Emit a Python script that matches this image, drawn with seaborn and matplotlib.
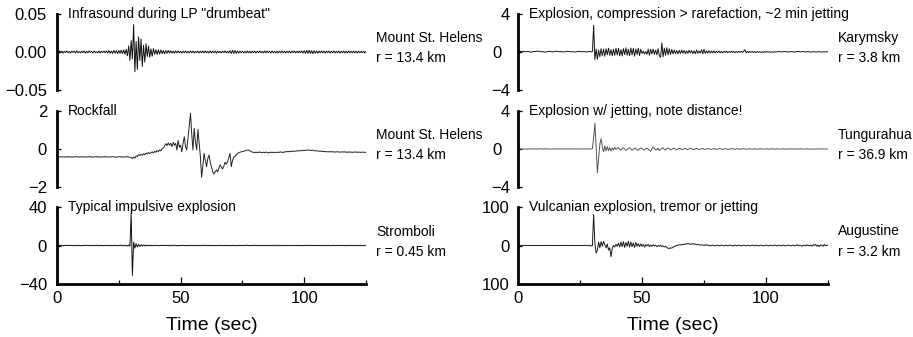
import numpy as np
import pandas as pd
import seaborn as sns
import matplotlib.pyplot as plt
from matplotlib.ticker import FixedLocator
from matplotlib.transforms import ScaledTranslation

sns.set_style("ticks")
plt.rcParams["font.family"] = ["Liberation Sans", "DejaVu Sans"]
for key in ("text.color", "axes.labelcolor", "xtick.color", "ytick.color",
            "axes.edgecolor"):
    plt.rcParams[key] = "black"

# Sampling interval of every trace (seconds); samples start at t = 0
DT = 0.5
TIME_MAX = 125
TIME_TICKS = [0, 50, 100]
TIME_MINOR = [25, 75, 125]

# --- Mount St. Helens, infrasound during LP "drumbeat" (Pa) ---
msh_lp = [
    0.0005, -0.0012, 0.0014, -0.0008, 0.0011, -0.0015, 0.0009, -0.0006, 0.0013, -0.0011,
    0.0007, -0.0014, 0.0012, -0.0005, 0.0010, -0.0013, 0.0015, -0.0009, 0.0006, -0.0012,
    0.0011, -0.0007, 0.0013, -0.0014, 0.0008, -0.0010, 0.0014, -0.0006, 0.0009, -0.0013,
    0.0012, -0.0008, 0.0005, -0.0011, 0.0013, -0.0015, 0.0010, -0.0007, 0.0012, -0.0010,
    0.0014, -0.0012, 0.0018, -0.0016, 0.0012, -0.0019, 0.0021, -0.0015, 0.0017, -0.0022,
    0.0020, -0.0018, 0.0024, -0.0021, 0.0028, -0.0030, 0.0035, -0.0050, 0.0080, -0.0110,
    0.0150, -0.0090, 0.0360, -0.0260, 0.0140, -0.0230, 0.0200, -0.0110, 0.0170, -0.0190,
    0.0090, -0.0130, 0.0110, -0.0060, 0.0080, -0.0070, 0.0040, -0.0055, 0.0045, -0.0030,
    0.0030, -0.0032, 0.0028, -0.0025, 0.0027, -0.0022, 0.0020, -0.0024, 0.0018, -0.0016,
    0.0019, -0.0015, 0.0017, -0.0014, 0.0012, -0.0016, 0.0013, -0.0011, 0.0015, -0.0012,
    0.0010, -0.0013, 0.0011, -0.0009, 0.0014, -0.0012, 0.0008, -0.0011, 0.0013, -0.0010,
    0.0012, -0.0014, 0.0009, -0.0008, 0.0011, -0.0013, 0.0010, -0.0009, 0.0012, -0.0011,
    0.0014, -0.0010, 0.0008, -0.0012, 0.0015, -0.0013, 0.0011, -0.0009, 0.0013, -0.0016,
    0.0012, -0.0010, 0.0009, -0.0013, 0.0011, -0.0008, 0.0014, -0.0012, 0.0010, -0.0011,
    0.0016, -0.0019, 0.0022, -0.0018, 0.0020, -0.0017, 0.0013, -0.0015, 0.0012, -0.0010,
    0.0011, -0.0013, 0.0009, -0.0012, 0.0014, -0.0011, 0.0010, -0.0013, 0.0012, -0.0009,
    0.0011, -0.0014, 0.0010, -0.0008, 0.0013, -0.0011, 0.0009, -0.0012, 0.0014, -0.0010,
    0.0012, -0.0009, 0.0011, -0.0015, 0.0013, -0.0010, 0.0008, -0.0012, 0.0011, -0.0013,
    0.0010, -0.0009, 0.0013, -0.0011, 0.0012, -0.0014, 0.0009, -0.0010, 0.0012, -0.0013,
    0.0011, -0.0008, 0.0014, -0.0012, 0.0010, -0.0011, 0.0013, -0.0009, 0.0015, -0.0014,
    0.0016, -0.0018, 0.0021, -0.0019, 0.0023, -0.0020, 0.0018, -0.0022, 0.0017, -0.0015,
    0.0014, -0.0016, 0.0012, -0.0011, 0.0013, -0.0010, 0.0012, -0.0014, 0.0011, -0.0009,
    0.0012, -0.0013, 0.0010, -0.0011, 0.0014, -0.0012, 0.0009, -0.0010, 0.0013, -0.0015,
    0.0011, -0.0009, 0.0012, -0.0013, 0.0010, -0.0012, 0.0014, -0.0011, 0.0009, -0.0010,
    0.0012, -0.0011, 0.0010, -0.0013, 0.0011, -0.0009, 0.0008, -0.0010, 0.0011, -0.0012,
    0.0005,
]

# --- Mount St. Helens, rockfall (Pa) ---
msh_rockfall = [
    -0.41, -0.42, -0.40, -0.43, -0.41, -0.42, -0.41, -0.43, -0.42, -0.40,
    -0.42, -0.41, -0.43, -0.42, -0.41, -0.42, -0.40, -0.42, -0.43, -0.41,
    -0.42, -0.41, -0.42, -0.43, -0.41, -0.42, -0.40, -0.41, -0.42, -0.43,
    -0.42, -0.41, -0.40, -0.42, -0.41, -0.43, -0.42, -0.41, -0.42, -0.40,
    -0.41, -0.42, -0.43, -0.41, -0.42, -0.40, -0.42, -0.41, -0.43, -0.42,
    -0.41, -0.40, -0.42, -0.43, -0.41, -0.42, -0.41, -0.40, -0.42, -0.43,
    -0.45, -0.50, -0.42, -0.48, -0.36, -0.40, -0.30, -0.34, -0.28, -0.33,
    -0.25, -0.30, -0.22, -0.26, -0.18, -0.24, -0.20, -0.15, -0.21, -0.12,
    -0.17, -0.08, -0.14, -0.05, -0.10, 0.02, 0.05, 0.15, 0.28, 0.18,
    0.32, 0.20, 0.30, 0.12, 0.35, 0.20, 0.30, -0.05, 0.45, 0.10,
    0.20, -0.15, 0.30, 0.65, 0.10, -0.05, 0.60, 1.20, 1.88, 0.80,
    -0.05, 1.09, 0.40, -0.05, 1.04, 0.30, -0.40, -1.49, -0.90, -0.23,
    -0.60, -0.93, -0.50, -0.32, -0.70, -0.95, -1.20, -1.32, -1.20, -1.10,
    -1.20, -1.00, -0.84, -0.95, -1.05, -0.90, -0.70, -0.80, -0.67, -0.45,
    -0.23, -0.93, -0.60, -0.42, -0.40, -0.30, -0.25, -0.19, -0.17, -0.15,
    -0.14, -0.12, -0.10, -0.07, -0.06, -0.05, -0.10, -0.13, -0.16, -0.18,
    -0.17, -0.20, -0.16, -0.19, -0.15, -0.18, -0.20, -0.17, -0.19, -0.16,
    -0.18, -0.21, -0.17, -0.19, -0.16, -0.20, -0.18, -0.17, -0.19, -0.16,
    -0.18, -0.15, -0.17, -0.19, -0.14, -0.16, -0.13, -0.15, -0.12, -0.14,
    -0.11, -0.13, -0.10, -0.12, -0.09, -0.11, -0.08, -0.10, -0.07, -0.09,
    -0.06, -0.08, -0.05, -0.07, -0.05, -0.06, -0.08, -0.06, -0.09, -0.10,
    -0.08, -0.11, -0.12, -0.10, -0.13, -0.12, -0.14, -0.13, -0.15, -0.14,
    -0.15, -0.13, -0.16, -0.14, -0.15, -0.17, -0.14, -0.16, -0.15, -0.17,
    -0.16, -0.14, -0.17, -0.15, -0.16, -0.18, -0.15, -0.17, -0.16, -0.18,
    -0.16, -0.17, -0.15, -0.18, -0.16, -0.17, -0.18, -0.16, -0.17, -0.18,
    -0.17,
]

# --- Stromboli, typical impulsive explosion (Pa) ---
stromboli = [
    0.3, -0.2, 0.4, -0.3, 0.2, -0.4, 0.3, -0.1, 0.2, -0.3,
    0.4, -0.2, 0.1, -0.3, 0.3, -0.4, 0.2, -0.2, 0.3, -0.3,
    0.2, -0.3, 0.4, -0.2, 0.3, -0.1, 0.2, -0.4, 0.3, -0.2,
    0.1, -0.3, 0.4, -0.3, 0.2, -0.2, 0.3, -0.4, 0.2, -0.1,
    0.3, -0.2, 0.2, -0.4, 0.3, -0.3, 0.4, -0.2, 0.1, -0.3,
    0.3, -0.2, 0.4, -0.4, 0.2, -0.3, 0.3, -0.5, 0.6, -0.8,
    34.0, -31.0, 3.5, -2.8, 2.0, -1.6, 1.2, -1.0, 0.8, -0.7,
    0.6, -0.5, 0.5, -0.4, 0.4, -0.3, 0.3, -0.4, 0.3, -0.2,
    0.3, -0.3, 0.2, -0.4, 0.3, -0.2, 0.4, -0.3, 0.2, -0.2,
    0.3, -0.4, 0.2, -0.3, 0.4, -0.2, 0.3, -0.3, 0.2, -0.4,
    0.3, -0.2, 0.4, -0.3, 0.2, -0.3, 0.3, -0.2, 0.4, -0.3,
    0.2, -0.4, 0.3, -0.2, 0.3, -0.3, 0.2, -0.3, 0.4, -0.2,
    0.3, -0.3, 0.2, -0.2, 0.4, -0.3, 0.3, -0.4, 0.2, -0.2,
    0.3, -0.2, 0.4, -0.3, 0.2, -0.3, 0.3, -0.2, 0.2, -0.4,
    0.3, -0.3, 0.2, -0.2, 0.3, -0.4, 0.2, -0.3, 0.4, -0.2,
    0.2, -0.3, 0.3, -0.2, 0.4, -0.3, 0.2, -0.2, 0.3, -0.3,
    0.4, -0.2, 0.2, -0.3, 0.3, -0.4, 0.2, -0.2, 0.3, -0.3,
    0.2, -0.3, 0.3, -0.2, 0.2, -0.3, 0.4, -0.2, 0.3, -0.3,
    0.3, -0.2, 0.2, -0.4, 0.3, -0.2, 0.2, -0.3, 0.3, -0.2,
    0.2, -0.3, 0.4, -0.2, 0.3, -0.3, 0.2, -0.2, 0.3, -0.4,
    0.3, -0.2, 0.2, -0.3, 0.4, -0.2, 0.3, -0.3, 0.2, -0.2,
    0.3, -0.3, 0.2, -0.2, 0.3, -0.4, 0.2, -0.3, 0.3, -0.2,
    0.2, -0.3, 0.3, -0.2, 0.4, -0.3, 0.2, -0.2, 0.3, -0.3,
    0.2, -0.2, 0.3, -0.4, 0.2, -0.3, 0.3, -0.2, 0.2, -0.3,
    0.3, -0.2, 0.2, -0.3, 0.3, -0.2, 0.2, -0.3, 0.2, -0.2,
    0.1,
]

# --- Karymsky, explosion with ~2 min jetting (Pa) ---
karymsky = [
    0.05, 0.02, 0.06, 0.03, 0.08, 0.05, 0.02, 0.04, 0.07, 0.03,
    0.00, -0.02, 0.03, 0.06, 0.04, 0.08, 0.10, 0.07, 0.05, 0.02,
    0.04, 0.01, -0.02, 0.02, 0.05, 0.08, 0.06, 0.03, 0.01, 0.04,
    0.07, 0.09, 0.06, 0.04, 0.02, 0.05, 0.03, 0.00, 0.02, 0.05,
    0.08, 0.06, 0.03, 0.01, 0.04, 0.02, -0.01, 0.02, 0.05, 0.08,
    0.06, 0.04, 0.02, 0.05, 0.03, 0.00, 0.03, 0.06, 0.04, 0.02,
    0.05, 2.80, -0.80, 0.30, -0.75, 0.20, -0.50, 0.35, -0.40, 0.30,
    -0.45, 0.35, -0.30, 0.40, -0.35, 0.25, -0.40, 0.30, -0.35, 0.38,
    -0.30, 0.40, -0.38, 0.25, -0.42, 0.35, -0.28, 0.45, -0.35, 0.30,
    -0.40, 0.42, -0.30, 0.38, -0.45, 0.32, -0.25, 0.40, -0.36, 0.28,
    -0.15, 0.10, -0.20, 0.05, -0.25, 0.30, -0.35, 0.28, -0.20, 0.30,
    -0.25, 0.20, -0.30, 0.35, -0.40, -0.55, 0.95, -0.50, 0.40, -0.35,
    0.45, -0.30, 0.35, -0.25, 0.28, -0.20, 0.22, -0.18, 0.15, -0.20,
    0.18, -0.15, 0.20, -0.12, 0.16, -0.18, 0.12, -0.14, 0.18, -0.10,
    0.15, -0.16, 0.12, -0.18, 0.20, -0.14, 0.10, -0.12, 0.25, -0.20,
    0.30, -0.15, 0.12, -0.10, 0.14, -0.12, 0.10, -0.08, 0.12, -0.10,
    0.08, -0.06, 0.10, -0.08, 0.06, -0.09, 0.07, -0.05, 0.09, -0.07,
    0.05, -0.06, 0.08, -0.04, 0.06, -0.07, 0.05, -0.05, 0.07, -0.04,
    0.06, -0.05, 0.10, 0.25, -0.10, 0.08, -0.06, 0.05, -0.04, 0.06,
    -0.05, 0.04, -0.06, 0.05, -0.03, 0.04, -0.05, 0.03, -0.04, 0.05,
    -0.03, 0.04, -0.02, 0.03, -0.04, 0.02, -0.03, 0.04, -0.02, 0.03,
    0.05, 0.02, 0.04, 0.01, 0.03, 0.05, 0.02, 0.00, 0.03, 0.01,
    0.02, 0.04, 0.01, -0.01, 0.02, 0.04, 0.06, 0.03, 0.01, 0.03,
    0.05, 0.02, 0.00, 0.02, 0.04, 0.01, -0.01, 0.02, 0.03, 0.01,
    0.03, 0.00, 0.02, 0.04, 0.01, -0.01, 0.02, 0.00, 0.01, 0.03,
    0.01,
]

# --- Tungurahua, explosion with jetting (Pa) ---
tungurahua = [
    0.00, 0.01, 0.00, -0.01, 0.01, 0.02, 0.01, 0.00, -0.01, 0.00,
    0.01, 0.00, 0.02, 0.01, 0.00, -0.01, 0.00, 0.01, 0.02, 0.01,
    0.00, 0.01, 0.02, 0.01, 0.00, -0.01, 0.00, 0.02, 0.01, 0.00,
    0.01, 0.02, 0.00, -0.01, 0.01, 0.00, 0.02, 0.01, 0.00, 0.01,
    0.00, 0.01, 0.00, -0.01, 0.01, 0.02, 0.01, 0.00, 0.01, 0.00,
    -0.01, 0.00, 0.01, 0.02, 0.01, 0.00, 0.01, 0.00, 0.01, 0.00,
    0.05, 1.20, 2.70, 0.30, -2.50, -1.00, 0.50, 1.10, 0.20, -0.30,
    0.35, -0.20, 0.25, -0.18, 0.15, -0.22, 0.12, -0.10, 0.18, -0.05,
    0.10, 0.15, -0.05, -0.12, 0.05, 0.12, 0.02, -0.15, -0.08, 0.08,
    0.14, 0.00, -0.12, -0.05, 0.10, 0.06, -0.10, -0.14, 0.02, 0.12,
    0.05, -0.08, -0.12, 0.04, 0.10, -0.02, -0.15, -0.25, 0.05, 0.20,
    0.08, -0.10, -0.05, 0.10, -0.15, -0.05, 0.08, 0.12, -0.06, -0.10,
    0.04, 0.10, 0.02, -0.08, -0.05, 0.06, 0.08, -0.03, -0.10, 0.00,
    0.08, 0.04, -0.06, -0.04, 0.05, 0.06, -0.02, -0.07, 0.02, 0.06,
    0.03, -0.04, -0.06, 0.02, 0.05, 0.01, -0.05, -0.03, 0.04, 0.05,
    -0.01, -0.05, 0.00, 0.04, 0.03, -0.03, -0.04, 0.02, 0.04, 0.00,
    -0.03, -0.02, 0.03, 0.04, 0.00, -0.04, -0.02, 0.03, 0.02, -0.02,
    -0.03, 0.01, 0.03, 0.01, -0.02, -0.03, 0.02, 0.03, 0.00, -0.02,
    -0.01, 0.02, 0.02, -0.01, -0.03, 0.00, 0.03, 0.01, -0.02, -0.02,
    0.01, 0.03, 0.00, -0.02, -0.01, 0.02, 0.02, -0.01, -0.02, 0.00,
    0.02, 0.01, -0.02, -0.01, 0.02, 0.02, -0.01, -0.02, 0.00, 0.02,
    0.01, -0.01, -0.02, 0.01, 0.02, 0.00, -0.02, -0.01, 0.01, 0.02,
    0.00, -0.02, 0.00, 0.02, 0.01, -0.01, -0.02, 0.01, 0.02, 0.00,
    -0.01, -0.01, 0.01, 0.02, 0.00, -0.02, 0.00, 0.01, 0.01, -0.01,
    -0.01, 0.01, 0.02, 0.00, -0.01, 0.00, 0.01, 0.01, -0.01, 0.00,
    0.00,
]

# --- Augustine, Vulcanian explosion (Pa) ---
augustine = [
    0.5, -0.3, 0.4, -0.5, 0.2, -0.4, 0.6, -0.2, 0.3, -0.5,
    0.4, -0.3, 0.5, -0.4, 0.2, -0.6, 0.4, -0.2, 0.3, -0.4,
    0.5, -0.3, 0.2, -0.5, 0.4, -0.2, 0.6, -0.4, 0.3, -0.3,
    0.5, -0.5, 0.2, -0.3, 0.4, -0.4, 0.3, -0.2, 0.5, -0.3,
    0.4, -0.5, 0.3, -0.2, 0.6, -0.4, 0.2, -0.3, 0.5, -0.4,
    0.3, -0.5, 0.4, -0.2, 0.6, -0.3, 0.2, -0.6, 1.0, -1.5,
    0.0, 81.0, 5.0, -20.0, -12.0, 9.0, -6.0, 10.0, -2.0, 11.0,
    2.0, -6.0, 4.0, -12.0, -6.0, -29.0, -8.0, 0.0, -4.0, 3.0,
    -2.0, 6.0, -4.0, 9.0, -3.0, 10.0, -5.0, 8.0, -2.0, 11.0,
    -4.0, 9.0, -3.0, 7.0, -5.0, 8.0, -2.0, 5.0, -3.0, 4.0,
    -2.0, 3.0, -4.0, 2.0, -1.0, 3.0, -3.0, 1.0, -2.0, 2.0,
    -1.0, 1.0, -3.0, 0.0, -2.0, 1.0, -3.0, -1.0, -4.0, -2.0,
    -5.0, -7.0, -8.0, -6.0, -7.0, -4.0, -3.0, -1.0, 0.0, 1.0,
    2.0, 1.0, 3.0, 2.0, 4.0, 3.0, 5.0, 4.0, 5.0, 3.0,
    4.0, 5.0, 3.0, 4.0, 2.0, 3.0, 2.0, 1.0, 2.0, 1.0,
    0.0, 1.0, 2.0, 0.0, 1.0, -1.0, 0.0, 1.0, 0.0, -1.0,
    0.0, 1.0, -1.0, 0.0, 1.0, 0.0, -1.0, 0.0, 1.0, -1.0,
    0.0, 1.0, 0.0, -1.0, 0.0, 1.0, 0.0, -1.0, 1.0, 0.0,
    -1.0, 0.0, 1.0, 0.0, -1.0, 1.0, 0.0, -1.0, 0.0, 1.0,
    0.0, -1.0, 1.0, 0.0, -1.0, 0.0, 1.0, 0.0, -1.0, 0.0,
    1.0, 0.0, -1.0, 0.0, 1.0, -1.0, 0.0, 1.0, 0.0, -1.0,
    0.0, 1.0, -1.0, 0.0, 1.0, 0.0, -1.0, 0.0, 1.0, 0.0,
    -1.0, 0.0, 1.0, -1.0, 0.0, 2.0, -1.0, 1.0, 0.0, -2.0,
    1.0, 0.0, -1.0, 2.0, 0.0, -1.0, 1.0, -2.0, 2.0, 0.0,
    3.0, -2.0, 1.0, -3.0, 2.0, 0.0, -2.0, 3.0, -1.0, 1.0,
    0.0,
]

titles = [
    'Infrasound during LP "drumbeat"',
    "Rockfall",
    "Typical impulsive explosion",
    "Explosion, compression > rarefaction, ~2 min jetting",
    "Explosion w/ jetting, note distance!",
    "Vulcanian explosion, tremor or jetting",
]
volcanoes = ["Mount St. Helens", "Mount St. Helens", "Stromboli",
             "Karymsky", "Tungurahua", "Augustine"]
distances = ["r = 13.4 km", "r = 13.4 km", "r = 0.45 km",
             "r = 3.8 km", "r = 36.9 km", "r = 3.2 km"]
y_limits = [0.05, 2, 40, 4, 4, 100]
y_ticklabels = [
    ["\u22120.05", "0.00", "0.05"],
    ["\u22122", "0", "2"],
    ["\u221240", "0", "40"],
    ["\u22124", "0", "4"],
    ["\u22124", "0", "4"],
    ["100", "0", "100"],
]
traces = [msh_lp, msh_rockfall, stromboli, karymsky, tungurahua, augustine]
trace_colors = ["#111111", "#222222", "#111111", "#161616", "#555555", "#1c1c1c"]

W, H = 913, 337
fig = plt.figure(figsize=(W / 100, H / 100), dpi=100)

# axes boxes in pixels: column (left, width), row (top, bottom)
columns = [(57, 309), (518, 310)]
rows = [(14, 90), (111, 187), (207, 284)]
label_pads = [7.2, 5.8]

for i in range(6):
    col, row = divmod(i, 3)
    x0, w = columns[col]
    top, bottom = rows[row]
    ax = fig.add_axes([x0 / W, (H - bottom) / H, w / W, (bottom - top) / H])

    vals = traces[i]
    df = pd.DataFrame({"Time (sec)": np.arange(len(vals)) * DT, "Pressure": vals})
    sns.lineplot(data=df, x="Time (sec)", y="Pressure", ax=ax, estimator=None,
                 sort=False, color=trace_colors[i], linewidth=0.7)

    lim = y_limits[i]
    ax.set_xlim(0, TIME_MAX)
    ax.set_ylim(-lim, lim)
    ax.set_ylabel("")
    ax.patch.set_visible(False)

    for side in ("top", "right"):
        ax.spines[side].set_visible(False)
    ax.spines["left"].set_linewidth(2.0)

    ax.yaxis.set_major_locator(FixedLocator([-lim, 0, lim]))
    ax.set_yticklabels(y_ticklabels[i])
    ax.tick_params(axis="y", which="major", direction="in", length=3, width=0.9,
                   pad=label_pads[col], labelsize=12)

    # the zero label of the upper right panels sits a little further out
    if col == 1 and row < 2:
        zero_label = ax.yaxis.get_major_ticks()[1].label1
        zero_label.set_transform(zero_label.get_transform()
                                 + ScaledTranslation(-8 / 100, 0, fig.dpi_scale_trans))

    if row == 2:
        ax.spines["bottom"].set_linewidth(2.0)
        ax.xaxis.set_major_locator(FixedLocator(TIME_TICKS))
        ax.xaxis.set_minor_locator(FixedLocator(TIME_MINOR))
        ax.tick_params(axis="x", which="major", direction="in", length=5,
                       width=0.9, pad=5, labelsize=12)
        ax.tick_params(axis="x", which="minor", direction="in", length=3,
                       width=0.9)
        ax.set_xlabel("Time (sec)", fontsize=14, labelpad=8)
    else:
        ax.spines["bottom"].set_visible(False)
        ax.tick_params(axis="x", which="both", bottom=False, labelbottom=False)
        ax.set_xlabel("")

    ax.text(11 / w, 1.0, titles[i], transform=ax.transAxes, ha="left",
            va="center", fontsize=10)
    ax.annotate(volcanoes[i], xy=(1, 0), xycoords=("axes fraction", "data"),
                xytext=(10, 14), textcoords="offset pixels", ha="left",
                va="center", fontsize=10)
    ax.annotate(distances[i], xy=(1, 0), xycoords=("axes fraction", "data"),
                xytext=(10, -6), textcoords="offset pixels", ha="left",
                va="center", fontsize=10)

fig.savefig("out.png", dpi=100)
